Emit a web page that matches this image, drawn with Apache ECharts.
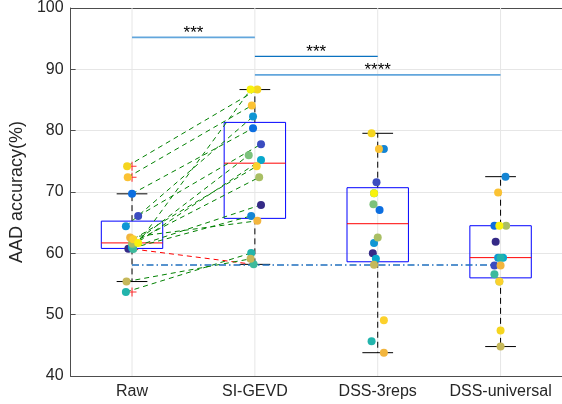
<!DOCTYPE html>
<html>
<head>
<meta charset="utf-8">
<script src="https://cdn.jsdelivr.net/npm/echarts@6/dist/echarts.min.js"></script>
<style>
  html, body { margin: 0; padding: 0; background: #fff; }
  #chart { width: 562px; height: 404px; }
</style>
</head>
<body>
<div id="chart"></div>
<script>
// groups on the x axis
const categories = ["Raw", "SI-GEVD", "DSS-3reps", "DSS-universal"];

// one colour per subject (parula-like)
const subjectColors = [
  "#352a87", "#3b4cc0", "#0c6ee0", "#1485d4", "#0f96d4", "#08a8cc", "#22b4ac", "#3dba9c",
  "#7cc27c", "#a9bf64", "#c6b85a", "#f2b53e", "#fbc233", "#fcd12c", "#f5d51f", "#f8f20e"
];

// AAD accuracy (%) per subject, same subject order in every array
const rawAcc    = [60.75, 66.1, 69.7, 60.85, 64.4, 61.2, 53.7, 60.7, 61.5, 61.7, 55.4, 62.6, 72.4, 62.3, 74.2, 61.7];
const siGevdAcc = [67.9, 77.8, 80.4, 66.1, 82.3, 75.2, 60.05, 58.2, 76.0, 72.4, 59.1, 65.3, 84.1, 74.2, 86.7, 86.7];
const dss3Acc   = [60.0, 71.6, 67.06, 77.0, 61.7, 59.1, 45.65, 69.8, 68.0, 62.6, 58.15, 43.8, 77.0, 49.1, 79.57, 69.8];
const dssUniAcc = [61.9, 58.0, 64.5, 72.5, 59.3, 59.3, 59.3, 56.6, 55.4, 64.5, 44.8, 58.0, 69.9, 55.4, 47.4, 64.5];

// horizontal scatter offsets of the points (in group units)
const rawJitter    = [-0.03, 0.05, 0, 0, -0.05, 0, -0.05, 0.01, 0.005, 0, -0.045, -0.015, -0.035, 0.01, -0.04, 0.05];
const siGevdJitter = [0.05, 0.05, -0.015, -0.03, -0.015, 0.05, -0.03, -0.01, -0.05, 0.035, -0.035, 0.02, -0.025, 0.015, 0.02, -0.035];
const dss3Jitter   = [-0.04, -0.01, 0.015, 0.05, -0.03, -0.015, -0.05, -0.03, -0.035, 0, -0.03, 0.05, 0.01, 0.05, -0.05, -0.03];
const dssUniJitter = [-0.04, -0.05, -0.05, 0.04, -0.02, 0.02, 0, -0.05, -0.01, 0.045, 0, 0, -0.02, -0.01, 0, -0.01];

const chanceLevel = 58.1;

// significance brackets
const sigPairs   = [[1, 2], [2, 3], [2, 4]];
const sigHeights = [95.2, 92.1, 89.1];
const sigLabels  = ["***", "***", "****"];

const groups  = [rawAcc, siGevdAcc, dss3Acc, dssUniAcc];
const jitters = [rawJitter, siGevdJitter, dss3Jitter, dssUniJitter];

const FONT = "Liberation Sans, Arial, Helvetica, sans-serif";

// MATLAB-style quantile
function quantile(sorted, p) {
  const n = sorted.length;
  const pos = n * p + 0.5;
  if (pos <= 1) return sorted[0];
  if (pos >= n) return sorted[n - 1];
  const lo = Math.floor(pos);
  const f = pos - lo;
  return sorted[lo - 1] + f * (sorted[lo] - sorted[lo - 1]);
}

function boxStats(vals) {
  const s = [...vals].sort((a, b) => a - b);
  const q1 = quantile(s, 0.25);
  const med = quantile(s, 0.5);
  const q3 = quantile(s, 0.75);
  const iqr = q3 - q1;
  const inside = s.filter((v) => v >= q1 - 1.5 * iqr && v <= q3 + 1.5 * iqr);
  const outliers = s.filter((v) => v < q1 - 1.5 * iqr || v > q3 + 1.5 * iqr);
  return { lo: inside[0], q1, med, q3, hi: inside[inside.length - 1], outliers };
}

const stats = groups.map(boxStats);
const boxData = stats.map((st, i) => [i + 1, st.lo, st.q1, st.med, st.q3, st.hi]);
const outlierData = [];
stats.forEach((st, i) => st.outliers.forEach((v) => outlierData.push([i + 1, v])));

const pairData = rawAcc.map((v, k) => [1 + rawJitter[k], v, 2 + siGevdJitter[k], siGevdAcc[k]]);

const chart = echarts.init(document.getElementById("chart"));

const pointSeries = groups.map((vals, g) => ({
  type: "scatter",
  xAxisIndex: 0,
  symbolSize: 8,
  z: 5,
  silent: true,
  data: vals.map((v, k) => ({
    value: [g + 1 + jitters[g][k], v],
    itemStyle: { color: subjectColors[k], opacity: 1 }
  }))
}));

const option = {
  animation: false,
  grid: { left: 67, top: 8, width: 505, height: 368 },
  xAxis: [
    { type: "value", min: 0.5, max: 4.5, show: false },
    {
      type: "category", data: categories, position: "bottom", boundaryGap: true,
      axisLine: { lineStyle: { color: "#4d4d4d", width: 1 } },
      axisTick: { inside: true, alignWithLabel: true, interval: 0, length: 5, lineStyle: { color: "#4d4d4d" } },
      axisLabel: { interval: 0, color: "#262626", fontSize: 16, fontFamily: FONT, margin: 8 },
      splitLine: { show: false }
    },
    {
      type: "category", data: categories, position: "top", boundaryGap: true,
      axisLine: { lineStyle: { color: "#4d4d4d", width: 1 } },
      axisTick: { inside: true, alignWithLabel: true, interval: 0, length: 5, lineStyle: { color: "#4d4d4d" } },
      axisLabel: { show: false },
      splitLine: { show: false }
    }
  ],
  yAxis: {
    type: "value", min: 40, max: 100, interval: 10,
    name: "AAD accuracy(%)", nameLocation: "middle", nameGap: 40,
    nameTextStyle: { color: "#262626", fontSize: 18, fontFamily: FONT },
    axisLine: { show: true, lineStyle: { color: "#4d4d4d", width: 1 } },
    axisTick: { show: true, inside: true, length: 5, lineStyle: { color: "#4d4d4d" } },
    axisLabel: { color: "#262626", fontSize: 16, fontFamily: FONT, margin: 7 },
    splitLine: { lineStyle: { color: "#e6e6e6", width: 1 } }
  },
  series: [
    {
      // vertical grid lines at the group centres
      type: "custom", xAxisIndex: 0, z: 1, silent: true,
      data: categories.map((c, i) => [i + 1]),
      encode: { x: 0 },
      renderItem: (params, api) => {
        const a = api.coord([api.value(0), 40]);
        const b = api.coord([api.value(0), 100]);
        return { type: "line", shape: { x1: a[0], y1: a[1], x2: b[0], y2: b[1] },
          style: { stroke: "#e6e6e6", lineWidth: 1 } };
      }
    },
    {
      type: "custom", xAxisIndex: 0, z: 2, silent: true,
      data: boxData,
      encode: { x: 0, y: [1, 2, 3, 4, 5] },
      renderItem: (params, api) => {
        const x = api.value(0);
        const lo = api.value(1), q1 = api.value(2), med = api.value(3), q3 = api.value(4), hi = api.value(5);
        const tl = api.coord([x - 0.25, q3]);
        const br = api.coord([x + 0.25, q1]);
        const m1 = api.coord([x - 0.25, med]);
        const m2 = api.coord([x + 0.25, med]);
        const c = (yv) => api.coord([x, yv]);
        const capL = (yv) => api.coord([x - 0.125, yv]);
        const capR = (yv) => api.coord([x + 0.125, yv]);
        const ln = (p, q, style) => ({ type: "line", shape: { x1: p[0], y1: p[1], x2: q[0], y2: q[1] }, style });
        const dash = { stroke: "#000", lineWidth: 1, lineDash: [6, 4] };
        const solid = { stroke: "#000", lineWidth: 1 };
        return {
          type: "group",
          children: [
            ln(c(q3), c(hi), dash),
            ln(c(q1), c(lo), dash),
            ln(capL(hi), capR(hi), solid),
            ln(capL(lo), capR(lo), solid),
            { type: "rect", shape: { x: tl[0], y: tl[1], width: br[0] - tl[0], height: br[1] - tl[1] },
              style: { fill: "none", stroke: "#0000ff", lineWidth: 1 } },
            ln(m1, m2, { stroke: "#ff0000", lineWidth: 1 })
          ]
        };
      }
    },
    {
      type: "scatter", xAxisIndex: 0, z: 3, silent: true,
      symbol: "path://M-0.6,-5H0.6V-0.6H5V0.6H0.6V5H-0.6V0.6H-5V-0.6H-0.6Z",
      symbolSize: 9,
      itemStyle: { color: "#ff0000" },
      data: outlierData
    },
    {
      // subject links Raw -> SI-GEVD
      type: "custom", xAxisIndex: 0, z: 4, silent: true,
      data: pairData,
      encode: { x: [0, 2], y: [1, 3] },
      renderItem: (params, api) => {
        const p = api.coord([api.value(0), api.value(1)]);
        const q = api.coord([api.value(2), api.value(3)]);
        const up = api.value(3) >= api.value(1);
        return { type: "line", shape: { x1: p[0], y1: p[1], x2: q[0], y2: q[1] },
          style: { stroke: up ? "#008000" : "#ff0000", lineWidth: 1, lineDash: [5, 4] } };
      }
    },
    {
      type: "line", xAxisIndex: 0, z: 4, silent: true, symbol: "none",
      lineStyle: { color: "#1f6fbf", width: 1.3, type: [7, 3, 1.5, 3] },
      data: [[1, chanceLevel], [3.95, chanceLevel]]
    },
    ...pointSeries,
    {
      type: "custom", xAxisIndex: 0, z: 6, silent: true,
      data: sigPairs.map((p, i) => [p[0], p[1], sigHeights[i]]),
      encode: { x: [0, 1], y: 2 },
      renderItem: (params, api) => {
        const a = api.coord([api.value(0), api.value(2)]);
        const b = api.coord([api.value(1), api.value(2)]);
        const i = params.dataIndex;
        const color = i === 1 ? "#0a72c0" : "#62a6dc";
        return {
          type: "group",
          children: [
            { type: "line", shape: { x1: a[0], y1: a[1], x2: b[0], y2: b[1] },
              style: { stroke: color, lineWidth: i === 1 ? 1.2 : 1.8 } },
            { type: "text", x: (a[0] + b[0]) / 2, y: a[1] + 4,
              style: { text: sigLabels[i], align: "center", verticalAlign: "bottom",
                fontSize: 17, fontFamily: FONT, fill: "#000" } }
          ]
        };
      }
    }
  ]
};

chart.setOption(option);
</script>
</body>
</html>
